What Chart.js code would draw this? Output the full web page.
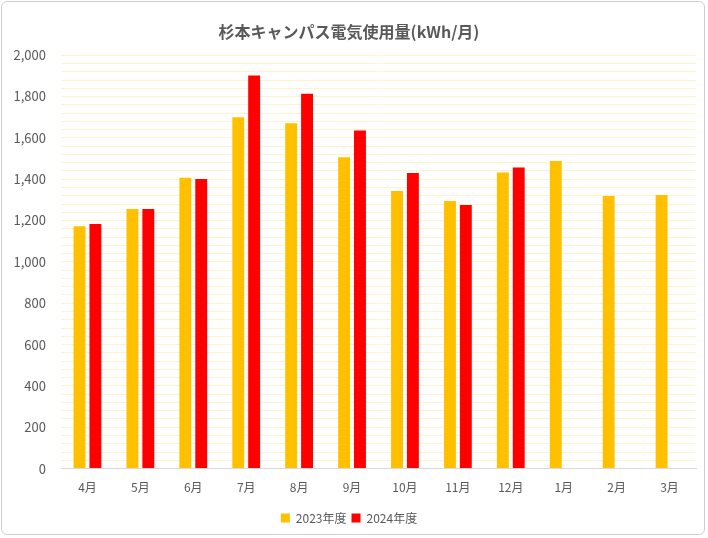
<!DOCTYPE html>
<html><head><meta charset="utf-8">
<script src="https://cdn.jsdelivr.net/npm/chart.js@4"></script>
<style>
html,body{margin:0;padding:0;background:#fff;}
#wrap{position:absolute;left:1px;top:1px;width:704px;height:534px;border:1px solid #d0d0d0;border-radius:6px;box-sizing:border-box;}
canvas{position:absolute;left:0;top:0;}
</style></head><body>
<div id="wrap"><canvas id="c" width="704" height="534"></canvas></div>
<script>
const categories = ['4月','5月','6月','7月','8月','9月','10月','11月','12月','1月','2月','3月'];
const values2023 = [1172,1256,1407,1700,1671,1506,1343,1295,1433,1488,1319,1324];
const values2024 = [1183,1256,1401,1902,1813,1636,1430,1275,1457,null,null,null];
const seriesNames = ['2023年度','2024年度'];
const titleText = '杉本キャンパス電気使用量(kWh/月)';
const yMin = 0, yMax = 2000, gridStep = 40, labelStep = 200;

const font = "'Noto Sans CJK JP','Noto Sans',sans-serif";
new Chart(document.getElementById('c'), {
  type: 'bar',
  data: {
    labels: categories,
    datasets: [
      {label: seriesNames[0], data: values2023, backgroundColor: '#ffc000', borderWidth: 0, categoryPercentage: 0.6, barPercentage: 0.75},
      {label: seriesNames[1], data: values2024, backgroundColor: '#ff0000', borderWidth: 0, categoryPercentage: 0.6, barPercentage: 0.75}
    ]
  },
  options: {
    responsive: false,
    animation: false,
    devicePixelRatio: 1,
    layout: {padding: {left: 0, right: 10, top: 10, bottom: 2}},
    plugins: {
      title: {display: true, text: titleText, color: '#595959', font: {family: font, size: 16, weight: 'bold'}, padding: {top: 10, bottom: 14}},
      legend: {position: 'bottom', labels: {color: '#595959', font: {family: font, size: 12}, boxWidth: 9, boxHeight: 9, padding: 5}},
      tooltip: {enabled: false}
    },
    scales: {
      x: {
        grid: {display: false, drawTicks: false},
        border: {color: '#d9d9d9', width: 1},
        ticks: {color: '#595959', font: {family: font, size: 12}, padding: 12}
      },
      y: {
        min: yMin, max: yMax,
        afterFit: s => { s.width = 59; },
        grid: {color: '#fff2cc', lineWidth: 1, drawTicks: false},
        border: {display: false},
        ticks: {
          stepSize: gridStep, autoSkip: false, color: '#595959', font: {family: font, size: 13}, padding: 15,
          callback: v => (v % labelStep === 0) ? v.toLocaleString('en-US') : ''
        }
      }
    }
  }
});
</script></body></html>
